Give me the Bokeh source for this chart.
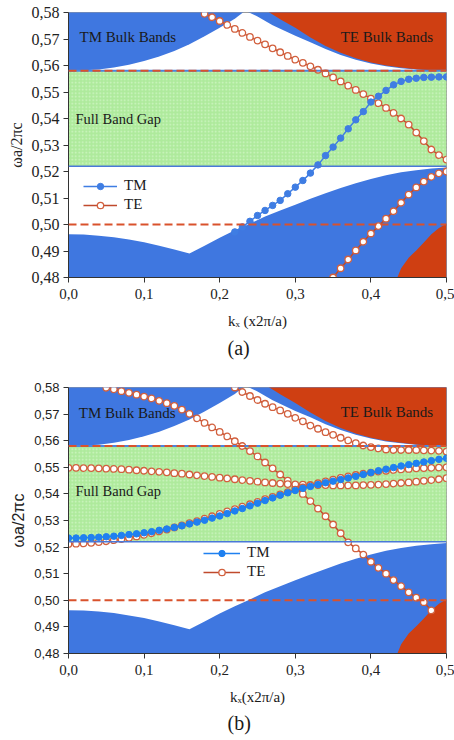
import numpy as np
from bokeh.plotting import figure
from bokeh.layouts import column
from bokeh.models import (FixedTicker, Label, Legend, LegendItem, Span, CustomJSTickFormatter,
                          Title)
from bokeh.embed import file_html
from bokeh.resources import INLINE


def grid(a, b):
    n = int(round((b - a) / 0.01)) + 1
    return list(np.round(np.linspace(a, b, n), 2))


# ---------------- axes ----------------
x_ticks = [0.0, 0.1, 0.2, 0.3, 0.4, 0.5]
x_labels = ["0,0", "0,1", "0,2", "0,3", "0,4", "0,5"]
y_ticks = [0.48, 0.49, 0.50, 0.51, 0.52, 0.53, 0.54, 0.55, 0.56, 0.57, 0.58]
y_labels = ["0,48", "0,49", "0,50", "0,51", "0,52", "0,53", "0,54", "0,55", "0,56", "0,57", "0,58"]
y_title = "ωa/2πc"
x_title_a = "kₓ (x2π/a)"
x_title_b = "kₓ(x2π/a)"

# ---------------- bulk bands / gap (shared) ----------------
gap_bottom = 0.522
gap_top = 0.558
light_line = 0.500

tm_up_left_k = [0.0, 0.02, 0.04, 0.06, 0.08, 0.10, 0.12, 0.14, 0.16, 0.18, 0.20, 0.22, 0.233]
tm_up_left_w = [0.5581, 0.5582, 0.5585, 0.5592, 0.5603, 0.5617, 0.5634, 0.5655, 0.5680, 0.5710,
                0.5742, 0.5776, 0.5805]
tm_up_right_k = [0.235, 0.25, 0.27, 0.30, 0.32, 0.34, 0.36, 0.38, 0.40, 0.42, 0.44, 0.46, 0.48, 0.50]
tm_up_right_w = [0.5805, 0.5785, 0.5752, 0.5712, 0.5688, 0.5662, 0.5640, 0.5622, 0.5608, 0.5597,
                 0.5590, 0.5585, 0.5581, 0.5580]
te_up_k = [0.263, 0.28, 0.30, 0.32, 0.34, 0.36, 0.38, 0.40, 0.42, 0.44, 0.46, 0.48, 0.50]
te_up_w = [0.5805, 0.5775, 0.5742, 0.5706, 0.5674, 0.5648, 0.5627, 0.5611, 0.5600, 0.5592,
           0.5586, 0.5582, 0.5580]
tm_low_k = [0.0, 0.02, 0.04, 0.06, 0.08, 0.10, 0.12, 0.14, 0.16, 0.18, 0.20, 0.22, 0.24, 0.26,
            0.28, 0.30, 0.32, 0.34, 0.36, 0.38, 0.40, 0.42, 0.44, 0.46, 0.48, 0.50]
tm_low_w = [0.4963, 0.4962, 0.4958, 0.4952, 0.4943, 0.4933, 0.4920, 0.4906, 0.4891, 0.4920,
            0.4950, 0.4978, 0.5003, 0.5030, 0.5053, 0.5075, 0.5097, 0.5118, 0.5138, 0.5156,
            0.5172, 0.5186, 0.5197, 0.5205, 0.5211, 0.5215]
te_low_k = [0.435, 0.44, 0.45, 0.46, 0.47, 0.48, 0.49, 0.50]
te_low_w = [0.4800, 0.4835, 0.4875, 0.4902, 0.4932, 0.4963, 0.4987, 0.5003]

# ---------------- panel (a) modes ----------------
tm_a_k = grid(0.22, 0.50)
tm_a_w = [0.4972, 0.4991, 0.5012, 0.5034, 0.5053, 0.5072, 0.5091, 0.5116, 0.5141, 0.5166,
          0.5194, 0.5225, 0.5260, 0.5292, 0.5326, 0.5361, 0.5395, 0.5426, 0.5462, 0.5484,
          0.5506, 0.5527, 0.5540, 0.5548, 0.5552, 0.5555, 0.5556, 0.5557, 0.5557]
te_a1_k = grid(0.18, 0.50)
te_a1_w = [0.5795, 0.5782, 0.5768, 0.5753, 0.5738, 0.5723, 0.5708, 0.5694, 0.5680, 0.5665,
           0.5650, 0.5636, 0.5622, 0.5610, 0.5597, 0.5584, 0.5570, 0.5555, 0.5540, 0.5524,
           0.5508, 0.5492, 0.5475, 0.5458, 0.5440, 0.5421, 0.5400, 0.5377, 0.5347, 0.5315,
           0.5283, 0.5262, 0.5245]
te_a2_k = grid(0.35, 0.50)
te_a2_w = [0.4800, 0.4835, 0.4868, 0.4902, 0.4935, 0.4966, 0.4994, 0.5022, 0.5050, 0.5082,
           0.5113, 0.5140, 0.5162, 0.5180, 0.5193, 0.5200]

# ---------------- panel (b) modes ----------------
tm_b_k = grid(0.0, 0.50)
tm_b_w = [0.5234, 0.5234, 0.5235, 0.5236, 0.5237, 0.5239, 0.5241, 0.5244, 0.5247, 0.5250,
          0.5254, 0.5258, 0.5263, 0.5268, 0.5274, 0.5280, 0.5287, 0.5294, 0.5301, 0.5309,
          0.5317, 0.5326, 0.5336, 0.5345, 0.5355, 0.5365, 0.5375, 0.5385, 0.5395, 0.5404,
          0.5413, 0.5421, 0.5428, 0.5435, 0.5442, 0.5448, 0.5454, 0.5460, 0.5466, 0.5473,
          0.5480, 0.5487, 0.5493, 0.5499, 0.5505, 0.5510, 0.5515, 0.5520, 0.5525, 0.5530, 0.5534]
te_b1_k = grid(0.05, 0.48)
te_b1_w = [0.5799, 0.5793, 0.5786, 0.5780, 0.5773, 0.5766, 0.5759, 0.5750, 0.5741, 0.5731,
           0.5717, 0.5701, 0.5684, 0.5667, 0.5650, 0.5633, 0.5616, 0.5598, 0.5580, 0.5561,
           0.5541, 0.5518, 0.5496, 0.5473, 0.5450, 0.5425, 0.5400, 0.5373, 0.5345, 0.5316,
           0.5285, 0.5252, 0.5218, 0.5195, 0.5172, 0.5145, 0.5122, 0.5100, 0.5076, 0.5053,
           0.5030, 0.5010, 0.4993, 0.4962]
te_b2_k = grid(0.22, 0.50)
te_b2_w = [0.5800, 0.5783, 0.5768, 0.5753, 0.5739, 0.5726, 0.5714, 0.5701, 0.5686, 0.5673,
           0.5657, 0.5645, 0.5632, 0.5622, 0.5611, 0.5601, 0.5591, 0.5582, 0.5576, 0.5571,
           0.5567, 0.5565, 0.5565, 0.5565, 0.5565, 0.5564, 0.5563, 0.5562, 0.5559]
te_b3_k = grid(0.0, 0.50)
te_b3_w = [0.5498, 0.5498, 0.5497, 0.5497, 0.5496, 0.5495, 0.5494, 0.5493, 0.5491, 0.5489,
           0.5487, 0.5485, 0.5483, 0.5481, 0.5478, 0.5476, 0.5473, 0.5470, 0.5467, 0.5464,
           0.5461, 0.5458, 0.5455, 0.5452, 0.5449, 0.5446, 0.5443, 0.5441, 0.5439, 0.5437,
           0.5436, 0.5435, 0.5434, 0.5433, 0.5433, 0.5432, 0.5432, 0.5432, 0.5432, 0.5433,
           0.5434, 0.5435, 0.5437, 0.5439, 0.5441, 0.5443, 0.5446, 0.5449, 0.5452, 0.5455, 0.5459]
te_b4_k = grid(0.0, 0.50)
te_b4_w = [0.5212, 0.5213, 0.5214, 0.5216, 0.5219, 0.5222, 0.5226, 0.5230, 0.5235, 0.5240,
           0.5246, 0.5252, 0.5259, 0.5266, 0.5274, 0.5282, 0.5290, 0.5298, 0.5307, 0.5316,
           0.5325, 0.5334, 0.5343, 0.5352, 0.5361, 0.5370, 0.5380, 0.5389, 0.5398, 0.5407,
           0.5416, 0.5424, 0.5432, 0.5440, 0.5447, 0.5454, 0.5460, 0.5466, 0.5471, 0.5476,
           0.5480, 0.5484, 0.5487, 0.5490, 0.5492, 0.5494, 0.5496, 0.5497, 0.5498, 0.5499, 0.5500]

SERIF = "Liberation Serif"
SANS = "Liberation Sans"
TM_BULK = "#3f77e0"
TE_BULK = "#cf3f12"
GREEN = "#aeea9c"
TE_LINE = "#c04a2c"
TE_EDGE = "#d2603e"
DASH_RED = "#d9522c"
FILL_TOP = 0.59
FILL_BOT = 0.47

FMT_CODE = ("const i = tv.findIndex(t => Math.abs(t - tick) < 1e-9); "
            "return i >= 0 ? lv[i] : '';")


def base_panel(height, top, bottom, ytick_font, ytick_size, ylabel_font, xtitle, tag, tag_standoff):
    p = figure(width=454, height=height, x_range=(0, 0.5), y_range=(0.48, 0.58),
               output_backend="svg", toolbar_location=None,
               min_border_left=68, min_border_right=8,
               min_border_top=top, min_border_bottom=bottom)
    p.grid.visible = False
    p.outline_line_color = "#9a9a9a"
    p.outline_line_width = 1
    p.background_fill_color = "white"
    p.border_fill_color = "white"

    p.xaxis.ticker = FixedTicker(ticks=x_ticks)
    p.xaxis.formatter = CustomJSTickFormatter(args=dict(tv=x_ticks, lv=x_labels), code=FMT_CODE)
    p.yaxis.ticker = FixedTicker(ticks=y_ticks)
    p.yaxis.formatter = CustomJSTickFormatter(args=dict(tv=y_ticks, lv=y_labels), code=FMT_CODE)
    for ax in (p.xaxis[0], p.yaxis[0]):
        ax.axis_line_color = "#333333"
        ax.major_tick_line_color = "#333333"
        ax.major_tick_out = 5
        ax.major_tick_in = 0
        ax.minor_tick_out = 0
        ax.minor_tick_in = 0
        ax.major_label_text_color = "#222222"
    p.xaxis.major_label_text_font = SERIF
    p.xaxis.major_label_text_font_size = "15px"
    p.xaxis.major_label_standoff = 6
    p.xaxis.axis_label = xtitle
    p.xaxis.axis_label_text_font = SERIF
    p.xaxis.axis_label_text_font_size = "15px"
    p.xaxis.axis_label_text_font_style = "normal"
    p.xaxis.axis_label_text_color = "#1a1a1a"
    p.xaxis.axis_label_standoff = 11
    p.yaxis.major_label_text_font = ytick_font
    p.yaxis.major_label_text_font_size = ytick_size
    p.yaxis.major_label_standoff = 4
    p.yaxis.axis_label = y_title
    p.yaxis.axis_label_text_font = ylabel_font
    p.yaxis.axis_label_text_font_size = "16px"
    p.yaxis.axis_label_text_font_style = "normal"
    p.yaxis.axis_label_text_color = "#222222"
    p.yaxis.axis_label_standoff = 4

    p.add_layout(Title(text=tag, align="left", offset=159, text_font=SERIF,
                       text_font_size="20px", text_font_style="normal", text_color="#1a1a1a",
                       standoff=tag_standoff), "below")

    # bulk bands
    p.varea(x=tm_up_left_k, y1=tm_up_left_w, y2=[FILL_TOP] * len(tm_up_left_k), fill_color=TM_BULK)
    p.varea(x=tm_up_right_k, y1=tm_up_right_w, y2=[FILL_TOP] * len(tm_up_right_k), fill_color=TM_BULK)
    p.varea(x=te_up_k, y1=te_up_w, y2=[FILL_TOP] * len(te_up_k), fill_color=TE_BULK)
    p.varea(x=tm_low_k, y1=[FILL_BOT] * len(tm_low_k), y2=tm_low_w, fill_color=TM_BULK)
    p.varea(x=te_low_k, y1=[FILL_BOT] * len(te_low_k), y2=te_low_w, fill_color=TE_BULK)

    # full band gap
    p.quad(left=[x_ticks[0]], right=[x_ticks[-1]], bottom=[gap_bottom], top=[gap_top],
           fill_color=GREEN, line_color=None,
           hatch_pattern="dot", hatch_color="#cff5c4", hatch_scale=3.5, hatch_weight=1)
    p.add_layout(Span(location=gap_bottom, dimension="width", line_color="#4a78d8", line_width=1.5))
    p.add_layout(Span(location=gap_top, dimension="width", line_color="#4a86e0", line_width=2))
    p.add_layout(Span(location=gap_top, dimension="width", line_color=DASH_RED, line_width=2,
                      line_dash="8 4"))
    p.add_layout(Span(location=light_line, dimension="width", line_color=DASH_RED, line_width=2,
                      line_dash="8 4"))
    return p


def te_curve(p, k, w):
    ln = p.line(k, w, line_color=TE_LINE, line_width=1.5)
    sc = p.scatter(k, w, marker="circle", size=6.5, fill_color="white", line_color=TE_EDGE,
                   line_width=1.3)
    return ln, sc


def tm_curve(p, k, w, color):
    ln = p.line(k, w, line_color=color, line_width=1.5)
    sc = p.scatter(k, w, marker="circle", size=6.5, fill_color=color, line_color=color)
    return ln, sc


def add_text(p, x, y, text, size, align="left"):
    p.add_layout(Label(x=x, y=y, text=text, text_font=SERIF, text_font_size=size,
                       text_color="#1a1a1a", text_baseline="middle", text_align=align))


def add_legend(p, tm, te, loc, gw):
    leg = Legend(items=[LegendItem(label="TM", renderers=list(tm)),
                        LegendItem(label="TE", renderers=list(te))],
                 location=loc, orientation="vertical",
                 background_fill_alpha=0, border_line_alpha=0,
                 label_text_font=SERIF, label_text_font_size="15px", label_text_color="#1a1a1a",
                 glyph_width=gw, glyph_height=16, label_height=16, spacing=2,
                 padding=0, margin=0, label_standoff=7)
    p.add_layout(leg)


# ---------------- panel (a) ----------------
pa = base_panel(370, 12, 93, SERIF, "16px", SERIF, x_title_a, "(a)", 6)
te1 = te_curve(pa, te_a1_k, te_a1_w)
te_curve(pa, te_a2_k, te_a2_w)
tm1 = tm_curve(pa, tm_a_k, tm_a_w, "#3f7de3")
add_text(pa, 0.0146, 0.5709, "TM Bulk Bands", "15px")
add_text(pa, 0.36, 0.5709, "TE Bulk Bands", "15px")
add_text(pa, 0.0093, 0.5400, "Full Band Gap", "14.5px")
add_legend(pa, tm1, te1, (15, 64), 34)

# ---------------- panel (b) ----------------
pb = base_panel(370, 17, 87, SANS, "13px", SANS, x_title_b, "(b)", 4)
te_b = te_curve(pb, te_b1_k, te_b1_w)
te_curve(pb, te_b2_k, te_b2_w)
te_curve(pb, te_b3_k, te_b3_w)
te_curve(pb, te_b4_k, te_b4_w)
tm_b = tm_curve(pb, tm_b_k, tm_b_w, "#1f80f0")
add_text(pb, 0.0137, 0.5703, "TM Bulk Bands", "15px")
add_text(pb, 0.36, 0.5707, "TE Bulk Bands", "15px")
add_text(pb, 0.0093, 0.5410, "Full Band Gap", "14.5px")
add_legend(pb, tm_b, te_b, (135, 73), 37)

layout = column(pa, pb)
open("out.html", "w").write(file_html(layout, INLINE))
